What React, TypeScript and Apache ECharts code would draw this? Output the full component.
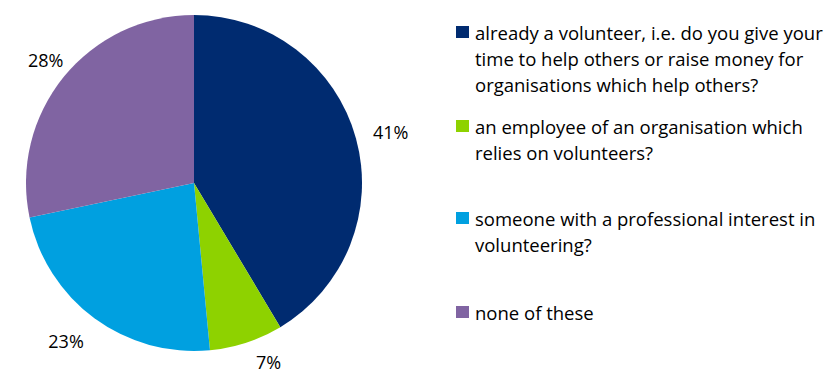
import React, { useEffect, useRef } from "react";
import * as echarts from "echarts";

const categories = [
  "already a volunteer, i.e. do you give your\ntime to help others or raise money for\norganisations which help others?",
  "an employee of an organisation which\nrelies on volunteers?",
  "someone with a professional interest in\nvolunteering?",
  "none of these",
];
const values = [41, 7, 23, 28];
const colors = ["#002B70", "#8ED200", "#00A0E0", "#8064A2"];
const legendCenters = [32, 126, 218, 312];
const labelOffsets = [[0, 3], [11, -15], [-7, -6], [10, 6]];

const FONT = "'Open Sans', Lato, sans-serif";

export default function App() {
  const ref = useRef<HTMLDivElement>(null);
  useEffect(() => {
    document.body.style.margin = "0";
    const chart = echarts.init(ref.current!, null, { renderer: "svg" });
    const data = values.map((v, i) => ({
      name: categories[i],
      value: v,
      itemStyle: { color: colors[i] },
    }));
    const graphic: any[] = [];
    categories.forEach((c, i) => {
      const cy = legendCenters[i];
      graphic.push({
        type: "rect",
        shape: { x: 456, y: cy - 6, width: 13, height: 12 },
        style: { fill: colors[i] },
      });
      graphic.push({
        type: "text",
        x: 475,
        y: cy - 13,
        style: {
          text: c,
          font: `18.5px ${FONT}`,
          fill: "#000",
          lineHeight: 26,
          verticalAlign: "top",
          align: "left",
        },
      });
    });
    chart.setOption({
      animation: false,
      backgroundColor: "#fff",
      graphic,
      series: [
        {
          type: "pie",
          center: [194, 183],
          radius: [0, 168],
          startAngle: 90,
          clockwise: true,
          silent: true,
          label: { show: false },
          labelLine: { show: false },
          itemStyle: { borderWidth: 0 },
          data,
        },
        {
          type: "pie",
          center: [194, 183],
          radius: [186, 216],
          startAngle: 90,
          clockwise: true,
          silent: true,
          itemStyle: { color: "transparent", borderWidth: 0 },
          labelLine: { show: false },
          data: values.map((v, i) => ({
            name: categories[i],
            value: v,
            label: {
              show: true,
              position: "inside",
              formatter: (p: any) => `${p.value}%`,
              fontFamily: FONT,
              fontSize: 18,
              lineHeight: 18,
              color: "#000",
              offset: labelOffsets[i],
            },
          })),
        },
      ],
    });
    return () => chart.dispose();
  }, []);
  return <div ref={ref} style={{ width: 840, height: 374 }} />;
}
